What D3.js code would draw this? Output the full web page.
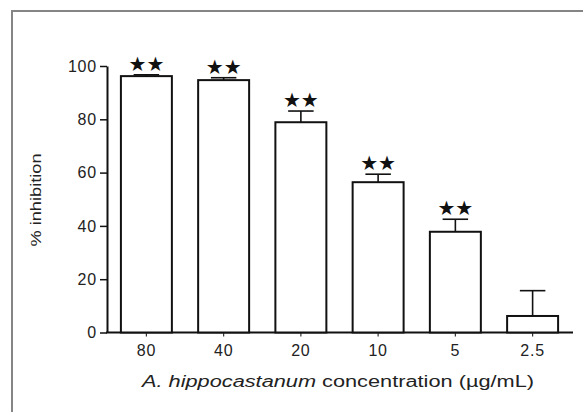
<!DOCTYPE html>
<html>
<head>
<meta charset="utf-8">
<script src="https://cdn.jsdelivr.net/npm/d3@7"></script>
<style>
  html, body { margin: 0; padding: 0; background: #fff; }
  svg { display: block; }
</style>
</head>
<body>
<svg id="chart" width="583" height="412"></svg>
<script>
const categories = ["80", "40", "20", "10", "5", "2.5"];
const values = [96.2, 94.7, 78.9, 56.4, 37.8, 6.2];
const errors = [0.5, 0.9, 4.2, 3.0, 4.7, 9.5];
const significance = ["★★", "★★", "★★", "★★", "★★", ""];
const yTicks = [0, 20, 40, 60, 80, 100];
const yTitle = "% inhibition";
const xTitleItalic = "A. hippocastanum";
const xTitleRest = " concentration (µg/mL)";

const svg = d3.select("#chart");
const font = "'Liberation Sans', Arial, sans-serif";

// outer frame
svg.append("path")
  .attr("d", "M12,420 L12,11 L590,11")
  .attr("fill", "none")
  .attr("stroke", "#858585")
  .attr("stroke-width", 2);

const x = d3.scaleBand().domain(categories).range([107, 572])
  .paddingInner(0.34).paddingOuter(0.18);
const y = d3.scaleLinear().domain([0, 100]).range([332.5, 66]);

// y axis
const yAxis = svg.append("g").attr("transform", "translate(107,0)")
  .call(d3.axisLeft(y).tickValues(yTicks).tickSize(7).tickPadding(3).tickSizeOuter(0));
yAxis.select(".domain").attr("stroke", "#111").attr("stroke-width", 2);
yAxis.selectAll(".tick line").attr("stroke", "#111").attr("stroke-width", 1.5);
yAxis.selectAll(".tick text").attr("font-family", font).attr("font-size", 16)
  .attr("fill", "#222").attr("letter-spacing", 0.8);

// x axis
const xAxis = svg.append("g").attr("transform", "translate(0,332.5)")
  .call(d3.axisBottom(x).tickSize(4).tickPadding(8).tickSizeOuter(0));
xAxis.select(".domain").attr("d", "M106,0H573").attr("stroke", "#111").attr("stroke-width", 2);
xAxis.selectAll(".tick line").attr("stroke", "#333").attr("stroke-width", 1.2);
xAxis.selectAll(".tick text").attr("font-family", font).attr("font-size", 16)
  .attr("fill", "#222").attr("letter-spacing", 0.8);

// bars
svg.append("g").selectAll("rect").data(values).join("rect")
  .attr("x", (d, i) => x(categories[i]))
  .attr("y", d => y(d))
  .attr("width", x.bandwidth())
  .attr("height", d => y(0) - y(d))
  .attr("fill", "#fff")
  .attr("stroke", "#111")
  .attr("stroke-width", 2);

// error bars
const eb = svg.append("g").attr("stroke", "#111").attr("stroke-width", 1.6);
values.forEach((v, i) => {
  const cx = x(categories[i]) + x.bandwidth() / 2;
  const capW = x.bandwidth() / 2;
  eb.append("line").attr("x1", cx).attr("x2", cx).attr("y1", y(v)).attr("y2", y(v + errors[i]));
  eb.append("line").attr("x1", cx - capW / 2).attr("x2", cx + capW / 2)
    .attr("y1", y(v + errors[i])).attr("y2", y(v + errors[i]));
});

// significance stars
svg.append("g").selectAll("text").data(significance).join("text")
  .attr("x", (d, i) => x(categories[i]) + x.bandwidth() / 2)
  .attr("y", (d, i) => y(values[i] + errors[i]) - 4)
  .attr("text-anchor", "middle")
  .attr("font-family", "'DejaVu Sans', sans-serif")
  .attr("font-size", 20)
  .attr("letter-spacing", 0)
  .attr("fill", "#111")
  .text(d => d);

// y title
svg.append("text")
  .attr("transform", "translate(41,200) rotate(-90)")
  .attr("text-anchor", "middle")
  .attr("font-family", font)
  .attr("font-size", 15)
  .attr("fill", "#222")
  .attr("textLength", 93)
  .attr("lengthAdjust", "spacingAndGlyphs")
  .text(yTitle);

// x title
const xt = svg.append("text")
  .attr("x", 338).attr("y", 387)
  .attr("text-anchor", "middle")
  .attr("font-family", font)
  .attr("font-size", 16)
  .attr("fill", "#222")
  .attr("textLength", 392)
  .attr("lengthAdjust", "spacingAndGlyphs");
xt.append("tspan").attr("font-style", "italic").text(xTitleItalic);
xt.append("tspan").text(xTitleRest);
</script>
</body>
</html>
